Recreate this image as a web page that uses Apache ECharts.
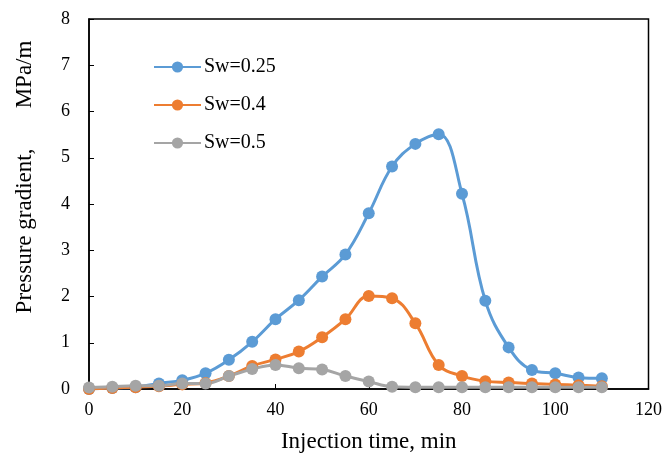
<!DOCTYPE html>
<html>
<head>
<meta charset="utf-8">
<script src="https://cdn.jsdelivr.net/npm/echarts@6/dist/echarts.min.js"></script>
<style>
  html, body { margin: 0; padding: 0; background: #fff; }
  #chart { width: 665px; height: 459px; }
</style>
</head>
<body>
<div id="chart"></div>
<script>
// 注入时间 (min)
let timeData = [0, 5, 10, 15, 20, 25, 30, 35, 40, 45, 50, 55, 60, 65, 70, 75, 80, 85, 90, 95, 100, 105, 110];
// 压力梯度 MPa/m
let sw025 = [0, 0.02, 0.04, 0.12, 0.19, 0.34, 0.63, 1.02, 1.51, 1.92, 2.43, 2.91, 3.8, 4.81, 5.3, 5.51, 4.22, 1.91, 0.9, 0.41, 0.34, 0.25, 0.23];
let sw04 = [0, 0.02, 0.04, 0.06, 0.1, 0.13, 0.28, 0.5, 0.64, 0.81, 1.12, 1.51, 2.01, 1.96, 1.42, 0.52, 0.28, 0.17, 0.14, 0.12, 0.1, 0.08, 0.06];
let sw05 = [0.03, 0.05, 0.07, 0.07, 0.12, 0.12, 0.28, 0.43, 0.52, 0.45, 0.42, 0.28, 0.16, 0.05, 0.04, 0.04, 0.04, 0.04, 0.04, 0.04, 0.04, 0.04, 0.04];
let seriesNames = ['Sw=0.25', 'Sw=0.4', 'Sw=0.5'];
let seriesColors = ['#5B9BD5', '#ED7D31', '#A5A5A5'];

let Chart_pg = echarts.init(document.getElementById('chart'));
const FONT = '"Liberation Serif", "Times New Roman", serif';

function pairs(ys) {
    return timeData.map(function (t, i) { return [t, ys[i]]; });
}

function lineSeries(name, ys, color) {
    return {
        name: name,
        type: 'line',
        data: pairs(ys),
        smooth: 0.4,
        symbol: 'circle',
        symbolSize: 12,
        lineStyle: { width: 3, color: color },
        itemStyle: { color: color },
        animation: false
    };
}

option = {
    textStyle: { fontFamily: FONT },
    grid: {
        left: 89,
        right: 14,
        top: 19,
        bottom: 70,
        show: true,
        borderColor: '#000',
        borderWidth: 1.5
    },
    legend: {
        orient: 'vertical',
        left: 148,
        top: 52,
        itemWidth: 47,
        itemHeight: 14,
        itemGap: 18,
        data: seriesNames,
        textStyle: { fontFamily: FONT, fontSize: 20, color: '#000', padding: [0, 0, 0, -2] }
    },
    xAxis: {
        type: 'value',
        min: 0,
        max: 120,
        interval: 20,
        name: 'Injection time, min',
        nameLocation: 'middle',
        nameGap: 41,
        nameTextStyle: { fontFamily: FONT, fontSize: 23, color: '#000' },
        axisLine: { lineStyle: { color: '#000', width: 1.5 } },
        axisTick: { inside: true, length: 5, lineStyle: { color: '#000' } },
        axisLabel: { fontFamily: FONT, fontSize: 18, color: '#000', margin: 12 },
        splitLine: { show: false }
    },
    yAxis: {
        type: 'value',
        min: 0,
        max: 8,
        interval: 1,
        axisLine: { show: true, lineStyle: { color: '#000', width: 1.5 } },
        axisTick: { show: true, inside: true, length: 5, lineStyle: { color: '#000' } },
        axisLabel: { fontFamily: FONT, fontSize: 18, color: '#000', margin: 19 },
        splitLine: { show: false }
    },
    graphic: [{
        type: 'text',
        x: 25,
        y: 177,
        rotation: Math.PI / 2,
        style: {
            text: 'Pressure gradient,       MPa/m',
            font: '23px ' + FONT,
            fill: '#000',
            align: 'center',
            verticalAlign: 'middle'
        }
    }],
    series: [
        lineSeries(seriesNames[0], sw025, seriesColors[0]),
        lineSeries(seriesNames[1], sw04, seriesColors[1]),
        lineSeries(seriesNames[2], sw05, seriesColors[2])
    ]
};

Chart_pg.setOption(option);
</script>
</body>
</html>
